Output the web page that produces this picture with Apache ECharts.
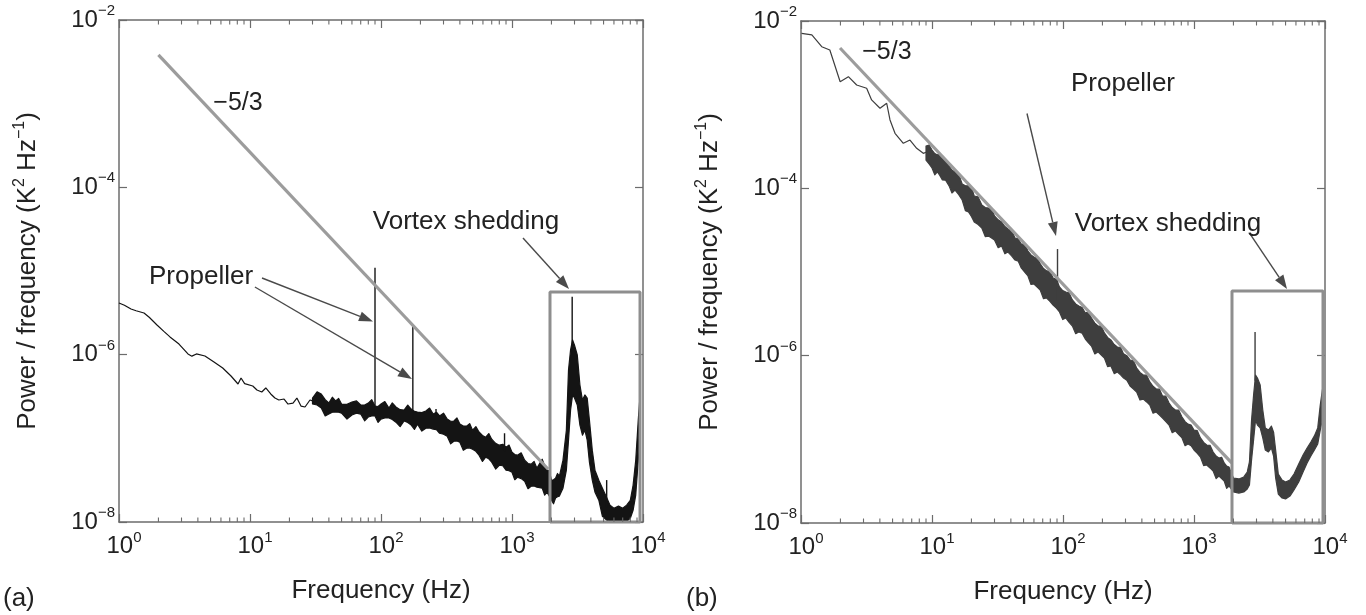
<!DOCTYPE html>
<html><head><meta charset="utf-8">
<script src="https://cdn.jsdelivr.net/npm/echarts@6/dist/echarts.min.js"></script>
<style>html,body{margin:0;padding:0;background:#fff}#c{width:1366px;height:615px}</style>
</head><body><div id="c"></div>
<script>
// ---------------- DATA ----------------
const xTickExponents = [0, 1, 2, 3, 4];
const yTickExponents = [-8, -6, -4, -2];
const minorTickFreq = [2,3,4,5,6,7,8,9,20,30,40,50,60,70,80,90,200,300,400,500,600,700,800,900,2000,3000,4000,5000,6000,7000,8000,9000];

// Panel (a): thin low-frequency trace
const aLineFreq  = [1, 1.1, 1.235, 1.35, 1.552, 1.7, 1.95, 2.2, 2.45, 2.87, 3.36, 3.6, 3.9, 4.53, 5.31, 6.19, 7.16, 8.10, 8.54, 9.1, 10.5, 11.3, 12.3, 13.2, 14.4, 15.5, 16.6, 18.2, 19.5, 21.3, 22.8, 24.5, 26.3, 28.7, 30];
const aLinePower = [4.14e-6, 3.9e-6, 3.51e-6, 3.35e-6, 3.15e-6, 2.8e-6, 2.26e-6, 1.9e-6, 1.63e-6, 1.34e-6, 1.02e-6, 9.6e-7, 1.02e-6, 9.64e-7, 8.17e-7, 6.93e-7, 5.56e-7, 4.46e-7, 5.26e-7, 4.5e-7, 4.22e-7, 3.78e-7, 3.58e-7, 4.0e-7, 3.39e-7, 3.03e-7, 2.87e-7, 2.95e-7, 2.57e-7, 2.64e-7, 3.03e-7, 2.43e-7, 2.37e-7, 2.87e-7, 2.8e-7];
// Panel (a): noisy band envelope (upper / lower)
const aBandFreq = [30, 32.5, 35, 37.5, 40, 42.5, 45, 47.5, 50, 55, 60, 65, 70, 75, 80, 85, 90, 95, 100, 107, 115, 122, 130, 140, 150, 160, 170, 180, 190, 205, 220, 235, 250, 265, 280, 300, 320, 340, 360, 380, 400, 425, 450, 475, 500, 530, 560, 595, 630, 665, 700, 750, 800, 850, 900, 950, 1000, 1050, 1100, 1175, 1250, 1325, 1400, 1475, 1550, 1625, 1700, 1775, 1850, 1925, 2000, 2075, 2150, 2225, 2300, 2375, 2450, 2600, 2700, 2800, 2900, 3000, 3150, 3300, 3450, 3600, 3750, 3900, 4100, 4300, 4600, 4900, 5300, 5600, 6000, 6500, 7000, 7500, 8000, 8400, 8800, 9200, 9500];
const aBandHigh = [3.03e-7, 3.6e-7, 3.39e-7, 2.9e-7, 2.64e-7, 3.1e-7, 2.80e-7, 3.0e-7, 2.57e-7, 2.55e-7, 2.72e-7, 2.8e-7, 2.50e-7, 2.5e-7, 2.64e-7, 2.9e-7, 2.43e-7, 2.4e-7, 2.57e-7, 2.75e-7, 2.30e-7, 2.65e-7, 2.37e-7, 2.2e-7, 2.18e-7, 2.5e-7, 2.24e-7, 2.1e-7, 2.06e-7, 2.03e-7, 2.12e-7, 2.3e-7, 1.95e-7, 2.05e-7, 1.85e-7, 2.0e-7, 1.70e-7, 1.6e-7, 1.61e-7, 1.75e-7, 1.48e-7, 1.4e-7, 1.40e-7, 1.5e-7, 1.25e-7, 1.38e-7, 1.19e-7, 1.08e-7, 1.03e-7, 1.14e-7, 9.77e-8, 8.7e-8, 8.28e-8, 8.5e-8, 7.84e-8, 8.3e-8, 6.83e-8, 6.4e-8, 6.29e-8, 6.7e-8, 5.48e-8, 5.0e-8, 4.91e-8, 5.3e-8, 4.40e-8, 5.0e-8, 5.63e-8, 4.7e-8, 4.16e-8, 4.1e-8, 3.16e-8, 3.2e-8, 3.34e-8, 3.8e-8, 3.53e-8, 4.4e-8, 5.48e-8, 1.25e-7, 6.56e-7, 1.14e-6, 1.50e-6, 1.30e-6, 9.91e-7, 4.34e-7, 2.87e-7, 3.30e-7, 3.03e-7, 1.65e-7, 7.22e-8, 4.16e-8, 3.16e-8, 2.54e-8, 1.93e-8, 1.59e-8, 1.46e-8, 1.55e-8, 1.46e-8, 1.59e-8, 1.82e-8, 2.75e-8, 5.48e-8, 1.65e-7, 3.30e-7];
const aBandLow  = [2.57e-7, 2.5e-7, 2.30e-7, 1.85e-7, 1.95e-7, 2.05e-7, 2.06e-7, 2.05e-7, 2.00e-7, 1.7e-7, 1.90e-7, 2.0e-7, 1.95e-7, 1.62e-7, 1.80e-7, 1.85e-7, 1.85e-7, 1.55e-7, 1.70e-7, 1.75e-7, 1.75e-7, 1.68e-7, 1.56e-7, 1.38e-7, 1.61e-7, 1.55e-7, 1.44e-7, 1.28e-7, 1.48e-7, 1.22e-7, 1.32e-7, 1.33e-7, 1.29e-7, 1.27e-7, 1.15e-7, 1.12e-7, 1.06e-7, 8.6e-8, 9.25e-8, 9.3e-8, 9.00e-8, 7.2e-8, 7.62e-8, 7.7e-8, 7.42e-8, 7.0e-8, 6.29e-8, 5.3e-8, 5.95e-8, 5.7e-8, 5.18e-8, 4.3e-8, 4.77e-8, 4.7e-8, 4.16e-8, 4.1e-8, 3.94e-8, 3.2e-8, 3.43e-8, 3.3e-8, 3.07e-8, 2.5e-8, 2.68e-8, 2.7e-8, 2.61e-8, 2.57e-8, 2.54e-8, 2.1e-8, 2.27e-8, 2.05e-8, 1.82e-8, 1.65e-8, 1.93e-8, 2.0e-8, 2.04e-8, 2.28e-8, 2.54e-8, 4.16e-8, 9.50e-8, 2.18e-7, 3.30e-7, 3.03e-7, 2.50e-7, 1.44e-7, 1.09e-7, 1.25e-7, 9.50e-8, 5.18e-8, 3.16e-8, 2.27e-8, 1.82e-8, 1.17e-8, 1.05e-8, 1.02e-8, 1.02e-8, 1.02e-8, 1.02e-8, 1.02e-8, 1.11e-8, 1.38e-8, 2.10e-8, 5.48e-8, 1.25e-7];
const aSpikeFreq = [90, 175, 263, 877, 2880, 5280];
const aSpikeBase = [2.0e-7, 1.7e-7, 1.8e-7, 7.0e-8, 1.0e-6, 1.5e-8];
const aSpikeTop  = [1.09e-5, 2.26e-6, 2.24e-7, 1.15e-7, 4.93e-6, 3.17e-8];
const aSlopeFreq = [2.0, 1883];
const aSlopePower = [3.82e-3, 4.30e-8];
const aBoxFreq = [1950, 9490];
const aBoxPower = [1e-8, 5.61e-6];
const aNoteText = ['Propeller', 'Vortex shedding', '\u22125/3'];
const aNoteFreq = [4.23, 445.6, 8.10];
const aNotePower = [8.48e-6, 3.85e-5, 1.02e-3];
const aArrowFromFreq = [12.35, 10.9, 1213];
const aArrowFromPower = [8.25e-6, 6.44e-6, 2.48e-5];
const aArrowToFreq = [86.9, 172.4, 2724];
const aArrowToPower = [2.49e-6, 5.12e-7, 6.10e-6];

// Panel (b)
const bLineFreq  = [1.01, 1.21, 1.44, 1.66, 1.99, 2.30, 2.66, 3.17, 3.46, 4.01, 4.51, 4.78, 5.22, 6.04, 6.79, 7.64, 8.58, 9];
const bLinePower = [7.13e-3, 6.81e-3, 4.93e-3, 4.50e-3, 1.88e-3, 2.16e-3, 1.72e-3, 1.57e-3, 1.14e-3, 9.05e-4, 1.04e-3, 6.56e-4, 4.55e-4, 3.45e-4, 3.78e-4, 3.01e-4, 2.62e-4, 2.7e-4];
const bBandFreq = [9, 9.5, 10, 10.5, 11, 11.5, 12, 12.7, 13.5, 14.2, 15, 16, 17, 18, 19, 20, 21, 22.5, 24, 25.5, 27, 28.5, 30, 32, 34, 36, 38, 40.5, 43, 45.5, 48, 51, 54, 57, 60, 63.5, 67, 71, 75, 79.5, 84, 89, 94, 99.5, 105, 111, 118, 125, 132, 140, 148, 156, 165, 175, 185, 196, 207, 219, 232, 246, 260, 275, 290, 307, 325, 345, 365, 387, 410, 435, 460, 487, 515, 545, 575, 610, 645, 682, 720, 765, 810, 855, 900, 950, 1000, 1060, 1120, 1185, 1250, 1325, 1400, 1475, 1550, 1625, 1700, 1775, 1850, 1925, 2000, 2200, 2400, 2550, 2650, 2750, 2850, 2950, 3050, 3200, 3350, 3500, 3700, 3900, 4050, 4200, 4400, 4700, 5000, 5400, 5800, 6300, 6800, 7300, 7800, 8300, 8800, 9200, 9600];
const bBandHigh = [3.21e-4, 3.3e-4, 2.87e-4, 2.6e-4, 2.50e-4, 2.62e-4, 2.30e-4, 2.2e-4, 1.85e-4, 1.65e-4, 1.57e-4, 1.47e-4, 1.13e-4, 1.07e-4, 1.07e-4, 1.03e-4, 8.10e-5, 7.9e-5, 6.32e-5, 5.9e-5, 5.82e-5, 5.7e-5, 4.67e-5, 4.2e-5, 3.96e-5, 3.5e-5, 3.27e-5, 3.15e-5, 2.55e-5, 2.5e-5, 2.16e-5, 2.15e-5, 1.78e-5, 1.6e-5, 1.51e-5, 1.5e-5, 1.25e-5, 1.1e-5, 1.03e-5, 1.02e-5, 8.48e-6, 8.2e-6, 6.62e-6, 6.0e-6, 5.77e-6, 5.65e-6, 4.63e-6, 4.15e-6, 3.92e-6, 3.75e-6, 3.24e-6, 3.3e-6, 2.82e-6, 2.45e-6, 2.26e-6, 2.25e-6, 1.87e-6, 1.65e-6, 1.54e-6, 1.36e-6, 1.27e-6, 1.26e-6, 1.05e-6, 1.0e-6, 8.88e-7, 8.7e-7, 7.12e-7, 6.3e-7, 5.87e-7, 5.85e-7, 4.85e-7, 4.3e-7, 4.00e-7, 3.98e-7, 3.30e-7, 3.28e-7, 2.72e-7, 2.4e-7, 2.24e-7, 2.23e-7, 1.85e-7, 1.63e-7, 1.52e-7, 1.48e-7, 1.29e-7, 1.27e-7, 1.04e-7, 9.2e-8, 8.56e-8, 8.5e-8, 7.06e-8, 6.3e-8, 5.98e-8, 6.1e-8, 5.22e-8, 4.8e-8, 4.67e-8, 4.0e-8, 3.45e-8, 3.36e-8, 3.55e-8, 4.07e-8, 5.36e-8, 1.70e-7, 3.39e-7, 5.87e-7, 5.41e-7, 4.46e-7, 2.24e-7, 1.37e-7, 1.29e-7, 1.44e-7, 1.22e-7, 7.46e-8, 3.85e-8, 3.27e-8, 3.09e-8, 3.27e-8, 3.85e-8, 5.07e-8, 6.50e-8, 7.88e-8, 9.29e-8, 1.10e-7, 1.37e-7, 2.57e-7, 4.11e-7];
const bBandLow  = [2.18e-4, 1.96e-4, 1.75e-4, 1.45e-4, 1.57e-4, 1.42e-4, 1.26e-4, 1.25e-4, 1.07e-4, 8.8e-5, 9.55e-5, 8.4e-5, 7.25e-5, 5.4e-5, 5.21e-5, 4.6e-5, 3.96e-5, 3.7e-5, 3.36e-5, 2.65e-5, 2.69e-5, 2.55e-5, 2.41e-5, 1.95e-5, 2.05e-5, 1.65e-5, 1.73e-5, 1.56e-5, 1.39e-5, 1.35e-5, 1.12e-5, 1.0e-5, 8.96e-6, 7.1e-6, 7.19e-6, 6.6e-6, 6.09e-6, 4.8e-6, 4.89e-6, 4.45e-6, 4.03e-6, 3.7e-6, 3.33e-6, 2.7e-6, 2.82e-6, 2.52e-6, 2.26e-6, 1.83e-6, 1.92e-6, 1.85e-6, 1.58e-6, 1.43e-6, 1.30e-6, 1.05e-6, 1.11e-6, 1.02e-6, 9.38e-7, 7.4e-7, 7.52e-7, 6.1e-7, 6.38e-7, 5.9e-7, 5.41e-7, 5.1e-7, 4.34e-7, 4.0e-7, 3.68e-7, 2.95e-7, 3.03e-7, 2.8e-7, 2.57e-7, 2.05e-7, 2.12e-7, 1.95e-7, 1.80e-7, 1.63e-7, 1.48e-7, 1.2e-7, 1.26e-7, 1.14e-7, 1.04e-7, 8.4e-8, 8.80e-8, 8.4e-8, 7.46e-8, 6.8e-8, 6.15e-8, 4.85e-8, 4.93e-8, 4.55e-8, 4.18e-8, 3.4e-8, 3.65e-8, 3.4e-8, 3.18e-8, 2.6e-8, 2.77e-8, 2.55e-8, 2.35e-8, 2.28e-8, 2.35e-8, 2.55e-8, 2.85e-8, 5.66e-8, 9.82e-8, 1.70e-7, 1.48e-7, 1.37e-7, 1.04e-7, 7.46e-8, 7.06e-8, 7.88e-8, 6.32e-8, 3.45e-8, 2.22e-8, 1.99e-8, 1.94e-8, 2.10e-8, 2.48e-8, 3.09e-8, 4.07e-8, 5.22e-8, 6.32e-8, 7.46e-8, 8.80e-8, 1.29e-7, 1.80e-7];
const bSpikeFreq = [90.8, 2925];
const bSpikeBase = [4.6e-6, 5.0e-7];
const bSpikeTop  = [1.88e-5, 1.92e-6];
const bSlopeFreq = [1.985, 1940];
const bSlopePower = [4.76e-3, 5.22e-8];
const bBoxFreq = [1950, 9654];
const bBoxPower = [1e-8, 5.93e-6];
const bNoteText = ['\u22125/3', 'Propeller', 'Vortex shedding'];
const bNoteFreq = [4.53, 287, 633];
const bNotePower = [4.26e-3, 1.77e-3, 3.75e-5];
const bArrowFromFreq = [53.1, 2677];
const bArrowFromPower = [7.84e-4, 2.85e-5];
const bArrowToFreq = [88.4, 5128];
const bArrowToPower = [2.69e-5, 6.26e-6];

const panelLabels = ['(a)', '(b)'];
const xTitle = 'Frequency (Hz)';

// ---------------- STYLE ----------------
const FONT = '"Liberation Sans", Arial, Helvetica, sans-serif';
const AX = '#6c6c6c';
const TXT = '#222';
const SLOPE = '#9c9c9c';
const BOX = '#8e8e8e';
const ARROW = '#4a4a4a';

function expText(v) {
  const e = Math.round(Math.log10(v));
  return String(e).replace('-', '\u2212');
}
const xLabelFmt = v => (xTickExponents.indexOf(Math.round(Math.log10(v))) >= 0 ? '{b|10}{s|' + expText(v) + '}' : '');
const yLabelFmt = v => (yTickExponents.indexOf(Math.round(Math.log10(v))) >= 0 ? '{b|10}{s|' + expText(v) + '}' : '');

function richLabel(padLeft) {
  return {
    b: { fontSize: 24, lineHeight: 33, fontFamily: FONT, color: TXT, padding: [0, 0, 0, padLeft] },
    s: { fontSize: 15, lineHeight: 15, verticalAlign: 'top', fontFamily: FONT, color: TXT }
  };
}

function bottomX(g) {
  return {
    type: 'log', logBase: 10, gridIndex: g, min: 1, max: 10000, interval: 1, position: 'bottom',
    name: xTitle, nameLocation: 'middle', nameGap: 56,
    nameTextStyle: { fontSize: 26, color: TXT, fontFamily: FONT },
    axisLine: { show: true, onZero: false, lineStyle: { color: AX, width: 1.5 } },
    axisTick: { show: true, inside: true, length: 8, lineStyle: { color: AX, width: 1.2 } },
    axisLabel: { show: true, margin: 8, formatter: xLabelFmt, rich: richLabel(10) },
    splitLine: { show: false }, minorTick: { show: false }
  };
}
function topX(g) {
  return {
    type: 'log', logBase: 10, gridIndex: g, min: 1, max: 10000, interval: 1, position: 'top',
    axisLine: { show: true, onZero: false, lineStyle: { color: AX, width: 1.5 } },
    axisTick: { show: true, inside: true, length: 8, lineStyle: { color: AX, width: 1.2 } },
    axisLabel: { show: false }, splitLine: { show: false }
  };
}
function leftY(g) {
  return {
    type: 'log', logBase: 10, gridIndex: g, min: 1e-8, max: 1e-2, interval: 2, position: 'left',
    name: '{t|Power / frequency (K}{s|2}{t| Hz}{s|\u22121}{t|)}',
    nameLocation: 'middle', nameGap: 76, nameRotate: 90,
    nameTextStyle: {
      color: TXT,
      rich: {
        t: { fontSize: 26, lineHeight: 31, fontFamily: FONT, color: TXT },
        s: { fontSize: 16, lineHeight: 16, verticalAlign: 'top', fontFamily: FONT, color: TXT }
      }
    },
    axisLine: { show: true, onZero: false, lineStyle: { color: AX, width: 1.5 } },
    axisTick: { show: true, inside: true, length: 8, lineStyle: { color: AX, width: 1.2 } },
    axisLabel: { show: true, margin: 4, formatter: yLabelFmt, rich: richLabel(0) },
    splitLine: { show: false }
  };
}
function rightY(g) {
  return {
    type: 'log', logBase: 10, gridIndex: g, min: 1e-8, max: 1e-2, interval: 2, position: 'right',
    axisLine: { show: true, onZero: false, lineStyle: { color: AX, width: 1.5 } },
    axisTick: { show: true, inside: true, length: 8, lineStyle: { color: AX, width: 1.2 } },
    axisLabel: { show: false }, splitLine: { show: false }
  };
}

const zip = (a, b) => a.map((v, i) => [v, b[i]]);

function panelSeries(d) {
  const base = { silent: true, animation: false };
  return [
    Object.assign({}, base, {
      type: 'custom', coordinateSystem: 'cartesian2d', z: 2,
      data: d.bandF.map((f, i) => [f, d.bandLo[i], d.bandHi[i]]),
      encode: { x: 0, y: [1, 2] },
      renderItem: (params, api) => {
        if (params.dataIndex !== 0) return null;
        const pts = [];
        for (let i = 0; i < d.bandF.length; i++) pts.push(api.coord([d.bandF[i], d.bandHi[i]]));
        for (let i = d.bandF.length - 1; i >= 0; i--) pts.push(api.coord([d.bandF[i], d.bandLo[i]]));
        return { type: 'polygon', shape: { points: pts }, style: { fill: d.color, stroke: d.color, lineWidth: 1.2, lineJoin: 'round' } };
      }
    }),
    Object.assign({}, base, {
      type: 'line', z: 3, data: zip(d.lineF, d.lineP), showSymbol: false,
      lineStyle: { color: d.color, width: 1.2 }
    }),
    Object.assign({}, base, {
      type: 'custom', coordinateSystem: 'cartesian2d', z: 3,
      data: d.spF.map((f, i) => [f, d.spBase[i], d.spTop[i]]),
      encode: { x: 0, y: [1, 2] },
      renderItem: (params, api) => {
        const p1 = api.coord([api.value(0), api.value(1)]);
        const p2 = api.coord([api.value(0), api.value(2)]);
        return { type: 'line', shape: { x1: p1[0], y1: p1[1], x2: p2[0], y2: p2[1] }, style: { stroke: d.color, lineWidth: 1.4 } };
      }
    }),
    Object.assign({}, base, {
      type: 'line', z: 4, data: zip(d.slopeF, d.slopeP), showSymbol: false,
      lineStyle: { color: SLOPE, width: 3.2 }
    }),
    Object.assign({}, base, {
      type: 'line', z: 5, clip: false, showSymbol: false,
      data: [[d.boxF[0], d.boxP[0]], [d.boxF[0], d.boxP[1]], [d.boxF[1], d.boxP[1]], [d.boxF[1], d.boxP[0]], [d.boxF[0], d.boxP[0]]],
      lineStyle: { color: BOX, width: 3 }
    }),
    Object.assign({}, base, {
      type: 'custom', coordinateSystem: 'cartesian2d', z: 6,
      data: d.arFromF.map((f, i) => [f, d.arFromP[i], d.arToF[i], d.arToP[i]]),
      encode: { x: [0, 2], y: [1, 3] },
      renderItem: (params, api) => {
        const p1 = api.coord([api.value(0), api.value(1)]);
        const p2 = api.coord([api.value(2), api.value(3)]);
        const dx = p2[0] - p1[0], dy = p2[1] - p1[1];
        const L = Math.sqrt(dx * dx + dy * dy);
        const ux = dx / L, uy = dy / L, nx = -uy, ny = ux;
        const hl = 14, hw = 5;
        const bx = p2[0] - ux * hl, by = p2[1] - uy * hl;
        return {
          type: 'group', children: [
            { type: 'line', shape: { x1: p1[0], y1: p1[1], x2: bx, y2: by }, style: { stroke: ARROW, lineWidth: 1.4 } },
            { type: 'polygon', shape: { points: [[p2[0], p2[1]], [bx + nx * hw, by + ny * hw], [bx - nx * hw, by - ny * hw]] }, style: { fill: ARROW } }
          ]
        };
      }
    }),
    Object.assign({}, base, {
      type: 'custom', coordinateSystem: 'cartesian2d', z: 7,
      data: zip(d.noteF, d.noteP),
      renderItem: (params, api) => {
        const p = api.coord([api.value(0), api.value(1)]);
        const t = d.noteText[params.dataIndex];
        return {
          type: 'text', x: p[0], y: p[1],
          style: { text: t, fill: TXT, font: (t.length > 5 ? '26px ' : '25px ') + FONT, align: 'center', verticalAlign: 'middle' }
        };
      }
    }),
    Object.assign({}, base, {
      type: 'custom', coordinateSystem: 'cartesian2d', z: 8,
      data: minorTickFreq.map(f => [f, 1e-5]),
      renderItem: (params, api) => {
        const pb = api.coord([api.value(0), 1e-8]);
        const pt = api.coord([api.value(0), 1e-2]);
        return {
          type: 'group', children: [
            { type: 'line', shape: { x1: pb[0], y1: pb[1], x2: pb[0], y2: pb[1] - 4.5 }, style: { stroke: AX, lineWidth: 1.1 } },
            { type: 'line', shape: { x1: pt[0], y1: pt[1], x2: pt[0], y2: pt[1] + 4.5 }, style: { stroke: AX, lineWidth: 1.1 } }
          ]
        };
      }
    })
  ];
}

const panelA = {
  color: '#141414',
  lineF: aLineFreq, lineP: aLinePower,
  bandF: aBandFreq, bandLo: aBandLow, bandHi: aBandHigh,
  spF: aSpikeFreq, spBase: aSpikeBase, spTop: aSpikeTop,
  slopeF: aSlopeFreq, slopeP: aSlopePower,
  boxF: aBoxFreq, boxP: aBoxPower,
  noteText: aNoteText, noteF: aNoteFreq, noteP: aNotePower,
  arFromF: aArrowFromFreq, arFromP: aArrowFromPower, arToF: aArrowToFreq, arToP: aArrowToPower
};
const panelB = {
  color: '#3e3e3e',
  lineF: bLineFreq, lineP: bLinePower,
  bandF: bBandFreq, bandLo: bBandLow, bandHi: bBandHigh,
  spF: bSpikeFreq, spBase: bSpikeBase, spTop: bSpikeTop,
  slopeF: bSlopeFreq, slopeP: bSlopePower,
  boxF: bBoxFreq, boxP: bBoxPower,
  noteText: bNoteText, noteF: bNoteFreq, noteP: bNotePower,
  arFromF: bArrowFromFreq, arFromP: bArrowFromPower, arToF: bArrowToFreq, arToP: bArrowToPower
};

const chart = echarts.init(document.getElementById('c'), null, { renderer: 'canvas' });
chart.setOption({
  animation: false,
  backgroundColor: '#fff',
  textStyle: { fontFamily: FONT },
  grid: [
    { left: 119, top: 20, width: 524, height: 502 },
    { left: 801, top: 21, width: 524, height: 502 }
  ],
  xAxis: [bottomX(0), topX(0), bottomX(1), topX(1)],
  yAxis: [leftY(0), rightY(0), leftY(1), rightY(1)],
  graphic: [
    { type: 'text', left: 3, top: 586, style: { text: panelLabels[0], font: '26px ' + FONT, fill: TXT } },
    { type: 'text', left: 686, top: 586, style: { text: panelLabels[1], font: '26px ' + FONT, fill: TXT } }
  ],
  series: [].concat(
    panelSeries(panelA).map(s => Object.assign(s, { xAxisIndex: 0, yAxisIndex: 0 })),
    panelSeries(panelB).map(s => Object.assign(s, { xAxisIndex: 2, yAxisIndex: 2 }))
  )
});
</script></body></html>
